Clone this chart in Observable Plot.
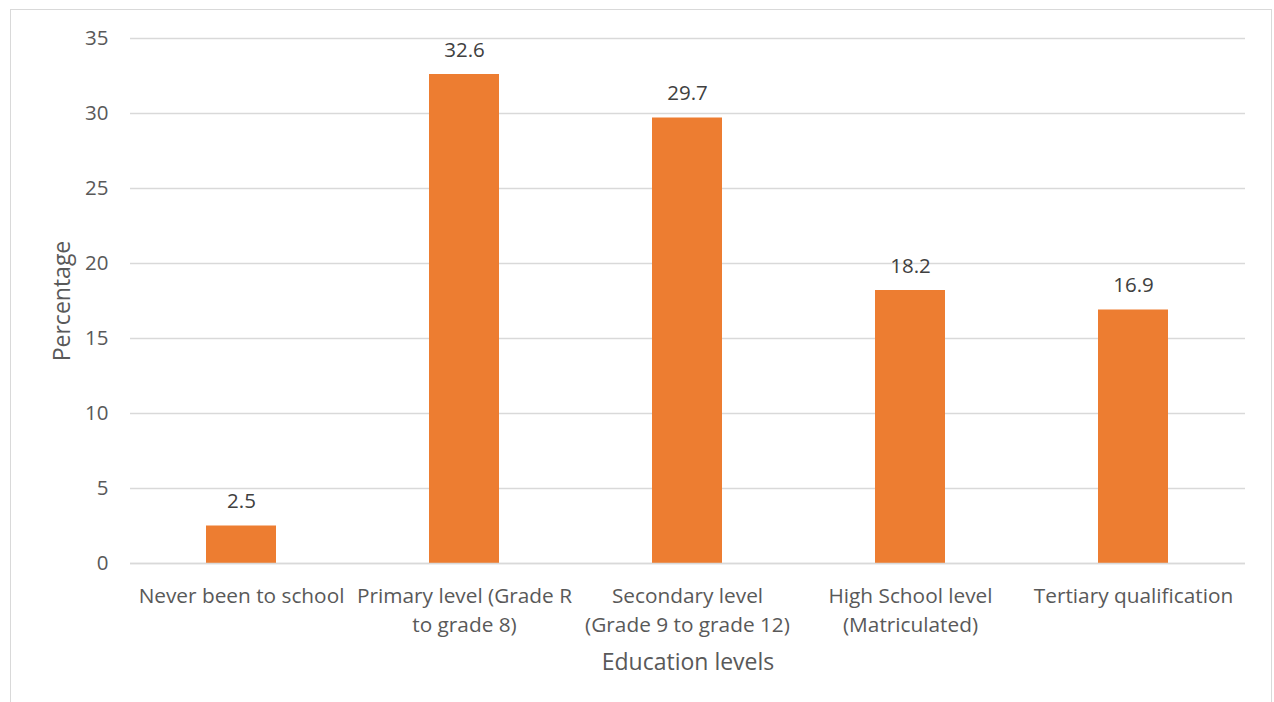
<!DOCTYPE html>
<html>
<head>
<meta charset="utf-8">
<script src="https://cdn.jsdelivr.net/npm/d3@7"></script>
<script src="https://cdn.jsdelivr.net/npm/@observablehq/plot@0.6"></script>
<style>
  html, body { margin: 0; padding: 0; background: #fff; }
  #wrap { position: relative; width: 1274px; height: 702px; overflow: hidden; }
  #frame { position: absolute; left: 10px; top: 9px; width: 1262px; height: 720px; border: 1px solid #d9d9d9; box-sizing: border-box; }
  #chart { position: absolute; left: 0; top: 0; }
</style>
</head>
<body>
<div id="wrap">
  <div id="frame"></div>
  <div id="chart"></div>
</div>
<script>
// Share of respondents by highest education level
const categories = [
  "Never been to school",
  "Primary level (Grade R to grade 8)",
  "Secondary level (Grade 9 to grade 12)",
  "High School level (Matriculated)",
  "Tertiary qualification"
];
const tickLabels = [
  "Never been to school",
  "Primary level (Grade R\nto grade 8)",
  "Secondary level\n(Grade 9 to grade 12)",
  "High School level\n(Matriculated)",
  "Tertiary qualification"
];
const percentages = [2.5, 32.6, 29.7, 18.2, 16.9];
const yTicks = [0, 5, 10, 15, 20, 25, 30, 35];

const data = categories.map((c, i) => ({category: c, value: percentages[i]}));
const labelOf = new Map(categories.map((c, i) => [c, tickLabels[i]]));

const font = "'Open Sans', sans-serif";

const chart = Plot.plot({
  width: 1274,
  height: 702,
  marginLeft: 130,
  marginRight: 29,
  marginTop: 38,
  marginBottom: 139,
  style: {fontFamily: font, fontSize: "20px", color: "#595959", background: "transparent"},
  x: {domain: categories, paddingInner: 0.686, paddingOuter: 0.343, label: null},
  y: {domain: [0, 35], label: null},
  marks: [
    Plot.gridY(yTicks, {stroke: "#d9d9d9", strokeOpacity: 1, strokeWidth: 1.5}),
    Plot.barY(data, {x: "category", y: "value", fill: "#ED7D31"}),
    Plot.ruleY([0], {stroke: "#d9d9d9", strokeWidth: 1.5}),
    Plot.text(data, {
      x: "category", y: "value", text: d => d.value.toFixed(1),
      dy: -18, lineAnchor: "bottom", fill: "#404040", fontSize: 20.5
    }),
    Plot.axisY({
      ticks: yTicks, tickSize: 0, tickPadding: 22, fontSize: 20.5, fill: "#595959",
      label: null
    }),
    Plot.axisX({
      tickSize: 0, tickPadding: 20, fontSize: 20.8, fill: "#595959", lineHeight: 1.35,
      tickFormat: d => labelOf.get(d), label: null
    }),
    Plot.text(["Percentage"], {
      frameAnchor: "left", textAnchor: "middle", dx: -68, rotate: -90, fontSize: 23, fill: "#595959"
    }),
    Plot.text(["Education levels"], {
      frameAnchor: "bottom", dy: 106, fontSize: 23, fill: "#595959"
    })
  ]
});

document.getElementById("chart").appendChild(chart);
</script>
</body>
</html>
